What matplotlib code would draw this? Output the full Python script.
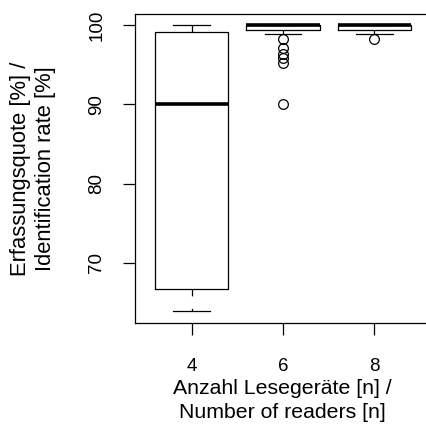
import matplotlib
matplotlib.use("Agg")
import matplotlib.pyplot as plt

plt.rcParams['font.family'] = ['Liberation Sans', 'DejaVu Sans']

categories = ["4", "6", "8"]
medians = [90.0, 100.0, 100.0]
q1 = [66.7, 99.4, 99.4]
q3 = [99.1, 100.0, 100.0]
whislo = [63.9, 98.9, 98.9]
whishi = [100.0, 100.0, 100.0]
fliers = [[], [98.3, 97.1, 96.4, 95.8, 95.2, 90.0], [98.2]]
yticks = [70, 80, 90, 100]

W, H = 427, 425
fig = plt.figure(figsize=(W / 100, H / 100), dpi=100)
left, right, top, bottom = 135, 431, 14, 323
ax = fig.add_axes([left / W, (H - bottom) / H, (right - left) / W, (bottom - top) / H])

stats = []
for i, c in enumerate(categories):
    stats.append(dict(med=medians[i], q1=q1[i], q3=q3[i], whislo=whislo[i],
                      whishi=whishi[i], fliers=fliers[i], label=c))

pos = [1, 2, 3]
ax.bxp(stats, positions=pos, widths=0.8, showfliers=True, patch_artist=False,
       boxprops=dict(color='black', linewidth=0.9),
       medianprops=dict(color='black', linewidth=2.6, solid_capstyle='butt'),
       whiskerprops=dict(color='black', linewidth=0.9, linestyle=(0, (5.5, 10))),
       capprops=dict(color='black', linewidth=0.9),
       capwidths=0.4,
       flierprops=dict(marker='o', markerfacecolor='none', markeredgecolor='black',
                       markersize=7, markeredgewidth=0.9, linestyle='none'))

ax.set_xlim(0.38, 3.62)
ax.set_ylim(62.43, 101.39)
ax.set_yticks(yticks)
ax.set_yticklabels([str(v) for v in yticks], rotation=90, va='center')
ax.set_xticks(pos)
ax.set_xticklabels(categories)
ax.tick_params(axis='both', labelsize=13.5, length=8.5, width=0.9, direction='out')
ax.tick_params(axis='x', pad=16.5)
ax.tick_params(axis='y', pad=13)
for s in ax.spines.values():
    s.set_linewidth(0.9)

fig.text(282.5 / W, 1 - 400.5 / H, "Anzahl Lesegeräte [n] /\nNumber of readers [n]",
         ha='center', va='center', fontsize=15.3, multialignment='center', linespacing=1.28)
fig.text(33 / W, 1 - 169 / H, "Erfassungsquote [%] /\nIdentification rate [%]",
         ha='center', va='center', rotation=90, fontsize=15.8, multialignment='center',
         linespacing=1.28)

fig.savefig("out.png", dpi=100)
